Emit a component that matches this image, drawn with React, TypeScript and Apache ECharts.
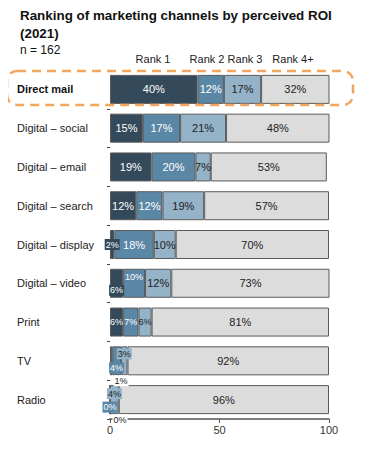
import React, { useEffect, useRef } from "react";
import * as echarts from "echarts";

const channels = [
  "Direct mail",
  "Digital – social",
  "Digital – email",
  "Digital – search",
  "Digital – display",
  "Digital – video",
  "Print",
  "TV",
  "Radio",
];
const rankNames = ["Rank 1", "Rank 2", "Rank 3", "Rank 4+"];
const rank1 = [40, 15, 19, 12, 2, 6, 6, 1, 0];
const rank2 = [12, 17, 20, 12, 18, 10, 7, 4, 0];
const rank3 = [17, 21, 7, 19, 10, 12, 6, 3, 4];
const rank4 = [32, 48, 53, 57, 70, 73, 81, 92, 96];
const xTicks = [0, 50, 100];
const titleLines = ["Ranking of marketing channels by perceived ROI", "(2021)"];
const sampleNote = "n = 162";

const colors = ["#34495a", "#5b87a6", "#94b2c8", "#dcdcdc"];
const textColors = ["#ffffff", "#ffffff", "#222222", "#222222"];

// label overrides for tiny segments, keyed "category-series"
const small = (extra: any) => ({ fontSize: 9, ...extra });
const labelOverrides: Record<string, any> = {
  "4-0": small({ position: "inside", backgroundColor: colors[0], padding: [1, 1] }),
  "5-0": small({ position: "insideBottom", distance: 2, backgroundColor: colors[0], padding: [1, 1] }),
  "5-1": small({ position: "insideTop", distance: 3, backgroundColor: colors[1], padding: [1, 1] }),
  "6-0": small({}),
  "6-1": small({}),
  "6-2": small({}),
  "7-0": small({ position: "bottom", distance: 0, offset: [10, 0], color: "#222", backgroundColor: "#fff", padding: [1, 1] }),
  "7-1": small({ position: "insideBottom", distance: 2, backgroundColor: colors[1], padding: [1, 1] }),
  "7-2": small({ position: "insideTop", distance: 2, backgroundColor: colors[2], padding: [1, 1] }),
  "8-0": small({ position: "bottom", distance: 0, offset: [10, 0], color: "#222", backgroundColor: "#fff", padding: [1, 1] }),
  "8-1": small({ position: "insideBottom", distance: 2, backgroundColor: colors[1], padding: [1, 1] }),
  "8-2": small({ position: "insideTop", distance: 3, backgroundColor: colors[2], padding: [1, 1] }),
};

const rankHeaderX = [153, 207, 245, 293];

export default function App() {
  const ref = useRef<HTMLDivElement>(null);
  useEffect(() => {
    if (!ref.current) return;
    const chart = echarts.init(ref.current, undefined, { renderer: "svg" });
    const allSeries = [rank1, rank2, rank3, rank4];
    const font = "'Liberation Sans', Arial, sans-serif";
    const series = allSeries.map((vals, si) => ({
      type: "bar",
      name: rankNames[si],
      stack: "total",
      barWidth: 29,
      itemStyle: { color: colors[si], borderColor: "#5a5a5a", borderWidth: 1 },
      label: {
        show: true,
        position: "inside",
        formatter: "{c}%",
        color: textColors[si],
        fontSize: 11,
        fontFamily: font,
      },
      data: vals.map((v, ci) => {
        const o = labelOverrides[`${ci}-${si}`];
        return o ? { value: v, label: o } : v;
      }),
    }));

    const graphic: any[] = [
      {
        type: "text",
        left: 20,
        top: 9,
        style: { text: titleLines[0], font: `bold 13.4px ${font}`, fill: "#111" },
      },
      {
        type: "text",
        left: 20,
        top: 27,
        style: { text: titleLines[1], font: `bold 13.4px ${font}`, fill: "#111" },
      },
      {
        type: "text",
        left: 20,
        top: 44,
        style: { text: sampleNote, font: `12px ${font}`, fill: "#111" },
      },
      ...rankNames.map((r, i) => ({
        type: "text",
        x: rankHeaderX[i],
        y: 59,
        style: {
          text: r,
          font: `11px ${font}`,
          fill: "#222",
          textAlign: "center",
          textVerticalAlign: "middle",
        },
      })),
      {
        type: "rect",
        z: 100,
        shape: { x: 7, y: 71, width: 346, height: 34, r: 10 },
        style: { fill: "none", stroke: "#f4a55f", lineWidth: 2.5, lineDash: [9, 6] },
      },
    ];

    chart.setOption({
      animation: false,
      grid: { left: 110, right: 38, top: 70, bottom: 30, containLabel: false },
      xAxis: {
        type: "value",
        min: 0,
        max: 100,
        interval: 50,
        splitLine: { show: false },
        axisLine: { show: true, lineStyle: { color: "#555", width: 1.5 } },
        axisTick: { show: true, length: 4, lineStyle: { color: "#555" } },
        axisLabel: {
          fontSize: 11,
          color: "#333",
          fontFamily: font,
          margin: 5,
          customValues: xTicks,
        },
      },
      yAxis: {
        type: "category",
        inverse: true,
        data: channels,
        axisLine: { show: false },
        axisTick: { show: true, length: 3, lineStyle: { color: "#444" } },
        axisLabel: {
          align: "left",
          margin: 93,
          fontSize: 11,
          color: "#222",
          fontFamily: font,
          formatter: (v: string) => (v === channels[0] ? `{b|${v}}` : v),
          rich: { b: { fontWeight: "bold", fontSize: 11, fontFamily: font, color: "#111" } },
        },
      },
      series,
      graphic,
    });
    return () => chart.dispose();
  }, []);
  return <div ref={ref} style={{ width: 367, height: 449, margin: -8 }} />;
}
